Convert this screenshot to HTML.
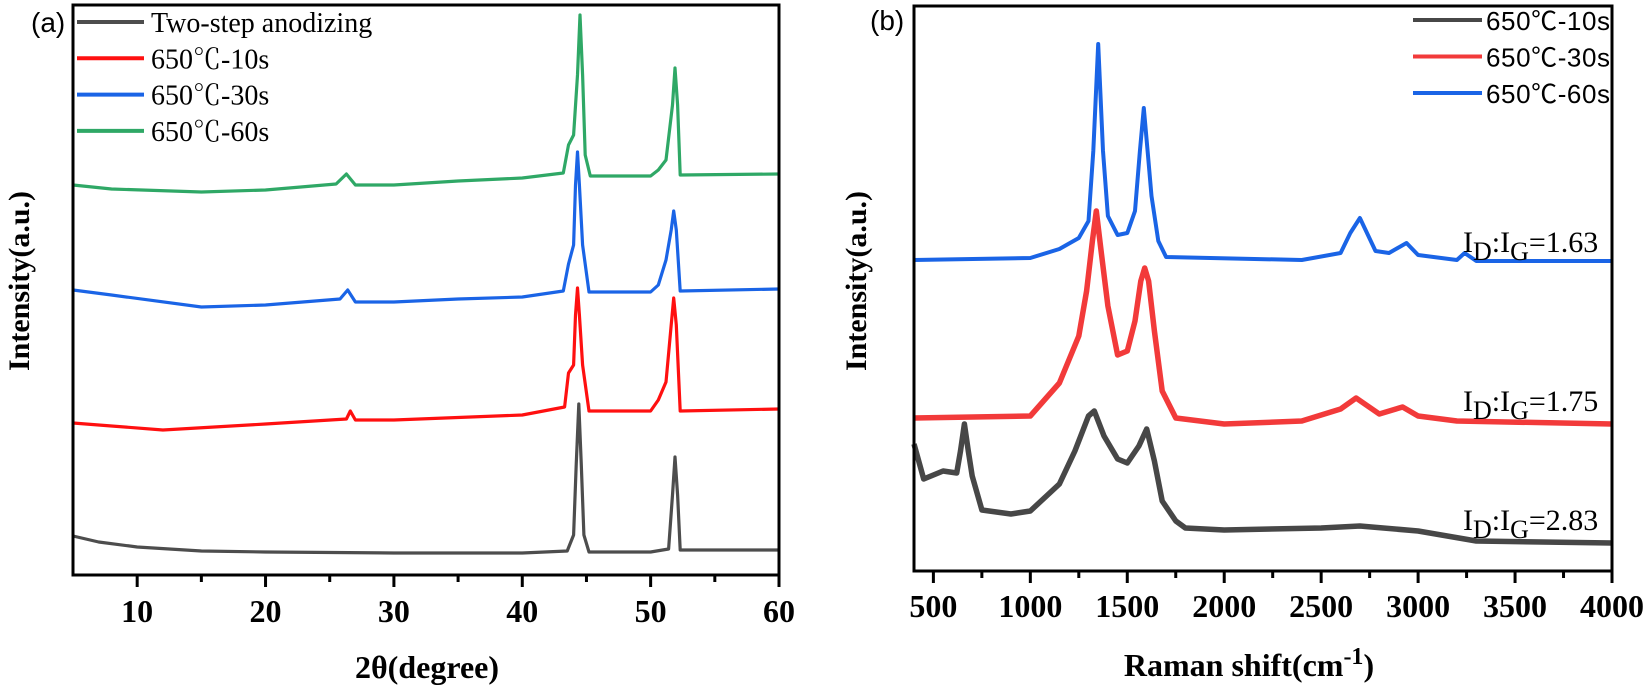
<!DOCTYPE html>
<html><head><meta charset="utf-8"><style>
html,body{margin:0;padding:0;background:#fff;}
svg{display:block;}
</style></head><body>
<svg id="fig" width="1650" height="689" viewBox="0 0 1650 689" xmlns="http://www.w3.org/2000/svg">
<g id="pa"></g>
<g id="pb"></g>
</svg>
<script>
// ---------- Panel (a) XRD data ----------
const xrdTicks = [10,20,30,40,50,60];
const xrdMinor = [15,25,35,45,55];
const xrdNames = ["Two-step anodizing","650℃-10s","650℃-30s","650℃-60s"];
const xrdColors = ["#4d4d4d","#ff1010","#1a64e6","#2fa866"];
const grayX = [5,7,10,15,20,30,40,43.5,44.0,44.2,44.4,44.6,44.8,45.2,50,51.4,51.7,51.9,52.1,52.3,60];
const grayY = [39,33,28,24,23,22,22,24,40,110,171,110,40,23,23,26,80,118,80,25,25];
const redX = [5,8,12,20,26.3,26.6,27,30,40,43.3,43.6,44.0,44.15,44.3,44.45,44.7,45.2,50,50.6,51.2,51.6,51.8,52.0,52.3,60];
const redY = [152,149,145,151,156,164,155,155,160,168,202,210,260,287,260,210,164,164,175,193,250,277,250,164,166];
const blueX = [5,8,15,20,25.8,26.4,27,30,35,40,43.2,43.6,44.0,44.15,44.3,44.45,44.7,45.2,50,50.6,51.2,51.6,51.8,52.0,52.3,60];
const blueY = [285,280,268,270,276,285,273,273,276,278,284,311,330,390,423,390,330,283,283,290,315,345,364,345,284,286];
const greenX = [5,8,15,20,25.5,26.3,27,30,35,40,43.2,43.6,44.0,44.3,44.5,44.7,44.9,45.3,50,50.6,51.2,51.7,51.9,52.1,52.3,60];
const greenY = [390,386,383,385,391,401,390,390,394,397,402,430,440,500,560,500,420,399,399,405,415,470,507,470,400,401];
// ---------- Panel (b) Raman data ----------
const ramTicks = [500,1000,1500,2000,2500,3000,3500,4000];
const ramMinor = [750,1250,1750,2250,2750,3250,3750];
const ramNames = ["650℃-10s","650℃-30s","650℃-60s"];
const ramColors = ["#474747","#f23a3a","#1a64e6"];
const ramLabels = ["=2.83","=1.75","=1.63"];
const ramLabelY = [530,411,252];
const rGrayX = [400,450,550,620,640,660,680,700,750,900,1000,1150,1230,1300,1330,1380,1450,1500,1560,1600,1640,1680,1750,1800,2000,2500,2700,3000,3300,4000];
const rGrayY = [127,92,100,98,120,147,120,95,61,57,60,87,120,155,160,135,112,108,125,142,110,70,50,43,41,43,45,40,30,28];
const rRedX = [400,1000,1150,1250,1290,1320,1340,1365,1400,1450,1500,1540,1570,1590,1610,1640,1680,1750,2000,2400,2600,2680,2800,2920,3000,3200,4000];
const rRedY = [153,155,188,235,280,330,360,320,265,216,220,250,290,303,290,240,180,153,147,150,162,173,157,164,155,150,147];
const rBlueX = [400,1000,1150,1250,1300,1325,1350,1375,1400,1450,1500,1540,1565,1585,1605,1625,1660,1700,2400,2600,2650,2700,2780,2850,2940,3000,3200,3240,3300,4000];
const rBlueY = [311,313,322,333,350,420,527,420,355,336,338,360,420,463,420,375,330,314,311,318,338,353,320,318,328,316,311,318,310,310];

const NS="http://www.w3.org/2000/svg";
function mk(parent,tag,attrs){const e=document.createElementNS(NS,tag);for(const k in attrs)e.setAttribute(k,attrs[k]);parent.appendChild(e);return e;}
function linear(d0,d1,r0,r1){return v=>r0+(v-d0)*(r1-r0)/(d1-d0);}
function path(xs,ys,sx,sy){return xs.map((x,i)=>(i?'L':'M')+sx(x).toFixed(1)+','+sy(ys[i]).toFixed(1)).join(' ');}

// ---- Panel A ----
const A=document.getElementById('pa');
const ax=linear(5,60,73,779), ay=linear(0,570,575,5);
const aSeriesX=[grayX,redX,blueX,greenX], aSeriesY=[grayY,redY,blueY,greenY];
for(let i=0;i<4;i++){
  const p=mk(A,'path',{d:path(aSeriesX[i],aSeriesY[i],ax,ay),fill:'none',stroke:xrdColors[i],'stroke-width':3.2,'stroke-linejoin':'round'});
  
  
}
const fa=mk(A,'rect',{x:73,y:5,width:706,height:570,fill:'none',stroke:'#000','stroke-width':3});


xrdTicks.forEach(t=>{
  const l=mk(A,'line',{x1:ax(t),x2:ax(t),y1:575,y2:587,stroke:'#000','stroke-width':3});
  
  
  const tx=mk(A,'text',{x:ax(t),y:622,'text-anchor':'middle','font-family':'Liberation Serif,serif','font-weight':'bold','font-size':32});
  tx.textContent=t;
  
  
});
xrdMinor.forEach(t=>{
  const l=mk(A,'line',{x1:ax(t),x2:ax(t),y1:575,y2:582,stroke:'#000','stroke-width':3});
  
  
});
xrdNames.forEach((n,i)=>{
  const y=22+i*36.3;
  const l=mk(A,'line',{x1:77,x2:144,y1:y,y2:y,stroke:xrdColors[i],'stroke-width':4});
  
  
  const t=mk(A,'text',{x:151,y:y+10,'font-family':'Liberation Serif,"Noto Serif CJK SC",serif','font-size':28});
  t.textContent=n;
  
  
});
let t=mk(A,'text',{x:31,y:32,'font-family':'Liberation Sans,sans-serif','font-size':28});
t.textContent='(a)';


t=mk(A,'text',{x:427,y:678,'text-anchor':'middle','font-family':'Liberation Serif,serif','font-weight':'bold','font-size':32});
t.textContent='2θ(degree)';


t=mk(A,'text',{x:0,y:0,'text-anchor':'middle','font-family':'Liberation Serif,serif','font-weight':'bold','font-size':30,transform:'translate(29,281) rotate(-90)'});
t.textContent='Intensity(a.u.)';



// ---- Panel B ----
const B=document.getElementById('pb');
const bx=linear(400,4000,914,1612), by=linear(0,565,571,6);
const bSeriesX=[rGrayX,rRedX,rBlueX], bSeriesY=[rGrayY,rRedY,rBlueY];
for(let i=0;i<3;i++){
  const p=mk(B,'path',{d:path(bSeriesX[i],bSeriesY[i],bx,by),fill:'none',stroke:ramColors[i],'stroke-width':i==2?4:5.5,'stroke-linejoin':'round'});
  
  
}
const fb=mk(B,'rect',{x:914,y:6,width:698,height:565,fill:'none',stroke:'#000','stroke-width':3});


ramTicks.forEach(v=>{
  const l=mk(B,'line',{x1:bx(v),x2:bx(v),y1:571,y2:583,stroke:'#000','stroke-width':3});
  
  
  const tx=mk(B,'text',{x:bx(v),y:617,'text-anchor':'middle','font-family':'Liberation Serif,serif','font-weight':'bold','font-size':32});
  tx.textContent=v;
  
  
});
ramMinor.forEach(v=>{
  const l=mk(B,'line',{x1:bx(v),x2:bx(v),y1:571,y2:578,stroke:'#000','stroke-width':3});
  
  
});
ramNames.forEach((n,i)=>{
  const y=20+i*36.5;
  const l=mk(B,'line',{x1:1413,x2:1482,y1:y,y2:y,stroke:ramColors[i],'stroke-width':4});
  
  
  const tx=mk(B,'text',{x:1486,y:y+10,'font-family':'Liberation Sans,"Noto Sans CJK SC",sans-serif','font-size':26,textLength:124});
  tx.textContent=n;
  
  
});
ramLabels.forEach((s,i)=>{
  const tx=mk(B,'text',{x:1463,y:ramLabelY[i],'font-family':'Liberation Serif,serif','font-size':30});
  
  
  tx.innerHTML='I<tspan dy="8" font-size="26">D</tspan><tspan dy="-8">:I</tspan><tspan dy="8" font-size="26">G</tspan><tspan dy="-8">'+s+'</tspan>';
});
t=mk(B,'text',{x:870,y:30,'font-family':'Liberation Sans,sans-serif','font-size':28});
t.textContent='(b)';


t=mk(B,'text',{x:1249,y:676,'text-anchor':'middle','font-family':'Liberation Serif,serif','font-weight':'bold','font-size':32});
t.innerHTML='Raman shift(cm<tspan dy="-12" font-size="24">-1</tspan><tspan dy="12">)</tspan>';


t=mk(B,'text',{x:0,y:0,'text-anchor':'middle','font-family':'Liberation Serif,serif','font-weight':'bold','font-size':30,transform:'translate(866,281) rotate(-90)'});
t.textContent='Intensity(a.u.)';


</script>
</body></html>
